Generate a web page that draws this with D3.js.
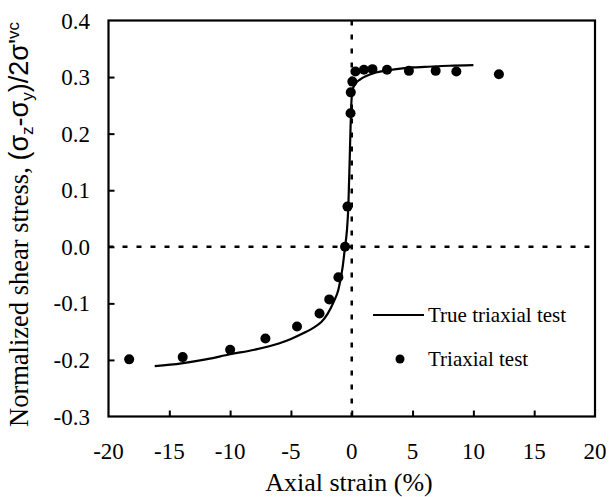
<!DOCTYPE html>
<html>
<head>
<meta charset="utf-8">
<script src="https://cdn.jsdelivr.net/npm/d3@7"></script>
<style>
  html, body { margin: 0; padding: 0; background: #fff; }
  svg { display: block; }
</style>
</head>
<body>
<svg id="chart" width="609" height="497"></svg>
<script>
// True triaxial test (continuous curve)
const trueStrain = [-16.2, -14, -12, -10, -8, -6, -5, -4, -3, -2.5, -2, -1.5, -1.1, -0.75, -0.55, -0.4, -0.28, -0.15, -0.06, 0.05, 0.3, 0.7, 1.2, 2, 3, 4, 5, 6, 8, 10];
const trueStress = [-0.211, -0.206, -0.199, -0.190, -0.182, -0.171, -0.163, -0.153, -0.141, -0.133, -0.119, -0.098, -0.076, -0.036, 0.0, 0.028, 0.071, 0.17, 0.24, 0.276, 0.288, 0.296, 0.302, 0.308, 0.312, 0.315, 0.317, 0.318, 0.320, 0.321];

// Triaxial test (measured points)
const triStrain = [-18.3, -13.9, -10.0, -7.1, -4.5, -2.65, -1.85, -1.1, -0.55, -0.35, -0.1, -0.08, 0.05, 0.3, 1.0, 1.7, 2.9, 4.7, 6.9, 8.6, 12.1];
const triStress = [-0.199, -0.195, -0.182, -0.162, -0.141, -0.118, -0.093, -0.054, 0.0, 0.071, 0.236, 0.273, 0.292, 0.310, 0.313, 0.314, 0.313, 0.311, 0.311, 0.310, 0.305];

const xTicks = [-20, -15, -10, -5, 0, 5, 10, 15, 20];
const yTicks = [-0.3, -0.2, -0.1, 0.0, 0.1, 0.2, 0.3, 0.4];

const svg = d3.select("#chart");
const serif = "'Liberation Serif', 'Times New Roman', serif";
const sans = "'Liberation Sans', Arial, sans-serif";

const plotL = 108.5, plotR = 595, plotT = 20.5, plotB = 416.5;
const x = d3.scaleLinear().domain([-20, 20]).range([plotL, plotR]);
const y = d3.scaleLinear().domain([-0.3, 0.4]).range([plotB, plotT]);

// labels use a plain hyphen for negatives
const fmtY = d => d3.format(".1f")(d).replace("\u2212", "-");
const fmtX = d => String(d);

// Reference lines through the origin
svg.append("line")
  .attr("x1", x(0)).attr("x2", x(0)).attr("y1", plotT).attr("y2", plotB)
  .attr("stroke", "#000").attr("stroke-width", 2.5).attr("stroke-dasharray", "5,9");
svg.append("line")
  .attr("x1", plotL).attr("x2", plotR).attr("y1", y(0)).attr("y2", y(0))
  .attr("stroke", "#000").attr("stroke-width", 2.5).attr("stroke-dasharray", "5,9");

// Inward ticks
const xAxis = d3.axisTop(x).tickValues(xTicks.slice(1, -1)).tickSize(6).tickFormat("");
svg.append("g").attr("transform", `translate(0,${plotB})`).call(xAxis)
  .call(g => g.select(".domain").remove())
  .call(g => g.selectAll("line").attr("stroke", "#000").attr("stroke-width", 2));
const yAxis = d3.axisRight(y).tickValues(yTicks.slice(1, -1)).tickSize(6).tickFormat("");
svg.append("g").attr("transform", `translate(${plotL},0)`).call(yAxis)
  .call(g => g.select(".domain").remove())
  .call(g => g.selectAll("line").attr("stroke", "#000").attr("stroke-width", 2));

// Frame
svg.append("rect")
  .attr("x", plotL).attr("y", plotT).attr("width", plotR - plotL).attr("height", plotB - plotT)
  .attr("fill", "none").attr("stroke", "#000").attr("stroke-width", 2.2);

// Tick labels
svg.append("g").selectAll("text").data(xTicks).join("text")
  .attr("x", d => x(d)).attr("y", 459)
  .attr("text-anchor", "middle")
  .attr("font-family", serif).attr("font-size", 23)
  .text(fmtX);
svg.append("g").selectAll("text").data(yTicks).join("text")
  .attr("x", 90).attr("y", d => y(d) + 8)
  .attr("text-anchor", "end")
  .attr("font-family", serif).attr("font-size", 23)
  .text(fmtY);

// Axis titles
svg.append("text")
  .attr("x", 349).attr("y", 491)
  .attr("text-anchor", "middle")
  .attr("font-family", serif).attr("font-size", 26)
  .text("Axial strain (%)");

const yt = svg.append("text")
  .attr("transform", "translate(28,427) rotate(-90)")
  .attr("font-family", serif).attr("font-size", 26.5);
yt.append("tspan").text("Normalized shear stress, ");
const f = yt.append("tspan").attr("font-family", sans).attr("font-size", 27);
f.append("tspan").text("(σ");
f.append("tspan").attr("font-size", 17).attr("dy", 5).text("z");
f.append("tspan").attr("dy", -5).text("-σ");
f.append("tspan").attr("font-size", 17).attr("dy", 5).text("y");
f.append("tspan").attr("dy", -5).text(")/2σ'");
f.append("tspan").attr("font-size", 17).attr("dy", -9).text("vc");

// True triaxial curve
const line = d3.line()
  .x((d, i) => x(trueStrain[i]))
  .y((d, i) => y(trueStress[i]))
  .curve(d3.curveMonotoneX);
svg.append("path")
  .attr("d", line(trueStrain))
  .attr("fill", "none").attr("stroke", "#000").attr("stroke-width", 2.2);

// Triaxial points
svg.append("g").selectAll("circle").data(triStrain).join("circle")
  .attr("cx", d => x(d))
  .attr("cy", (d, i) => y(triStress[i]))
  .attr("r", 5).attr("fill", "#000");

// Legend
const lg = svg.append("g");
lg.append("line").attr("x1", 373).attr("x2", 424).attr("y1", 315).attr("y2", 315)
  .attr("stroke", "#000").attr("stroke-width", 2.2);
lg.append("text").attr("x", 428).attr("y", 322)
  .attr("font-family", serif).attr("font-size", 21).text("True triaxial test");
lg.append("circle").attr("cx", 400).attr("cy", 359).attr("r", 4.5).attr("fill", "#000");
lg.append("text").attr("x", 428).attr("y", 366)
  .attr("font-family", serif).attr("font-size", 21).text("Triaxial test");
</script>
</body>
</html>
